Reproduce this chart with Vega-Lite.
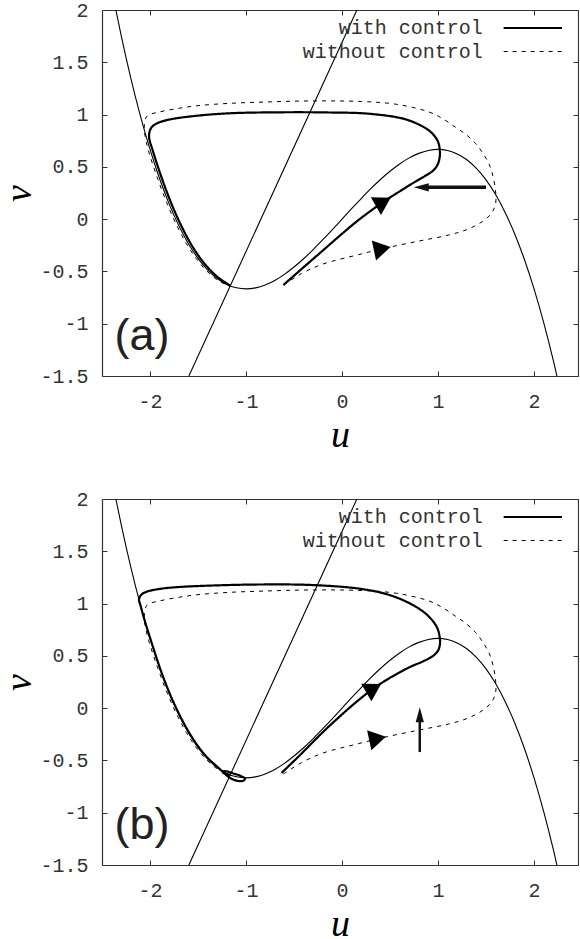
{
  "$schema": "https://vega.github.io/schema/vega-lite/v6.json",
  "padding": {"left": 0, "top": 0, "right": 0, "bottom": 0},
  "spacing": 35,
  "datasets": {
    "nullclines": [
      {"curve":"cubic","i":0,"u":-2.45,"v":2.452},{"curve":"cubic","i":1,"u":-2.4,"v":2.208},{"curve":"cubic","i":2,"u":-2.35,"v":1.976},{"curve":"cubic","i":3,"u":-2.3,"v":1.756},{"curve":"cubic","i":4,"u":-2.2,"v":1.349},{"curve":"cubic","i":5,"u":-2.1,"v":0.987},{"curve":"cubic","i":6,"u":-2.0,"v":0.667},{"curve":"cubic","i":7,"u":-1.9,"v":0.386},{"curve":"cubic","i":8,"u":-1.8,"v":0.144},{"curve":"cubic","i":9,"u":-1.7,"v":-0.062},{"curve":"cubic","i":10,"u":-1.6,"v":-0.235},{"curve":"cubic","i":11,"u":-1.5,"v":-0.375},{"curve":"cubic","i":12,"u":-1.4,"v":-0.485},{"curve":"cubic","i":13,"u":-1.3,"v":-0.568},{"curve":"cubic","i":14,"u":-1.2,"v":-0.624},{"curve":"cubic","i":15,"u":-1.1,"v":-0.656},{"curve":"cubic","i":16,"u":-1.0,"v":-0.667},{"curve":"cubic","i":17,"u":-0.9,"v":-0.657},{"curve":"cubic","i":18,"u":-0.8,"v":-0.629},{"curve":"cubic","i":19,"u":-0.7,"v":-0.586},{"curve":"cubic","i":20,"u":-0.6,"v":-0.528},{"curve":"cubic","i":21,"u":-0.5,"v":-0.458},{"curve":"cubic","i":22,"u":-0.4,"v":-0.379},{"curve":"cubic","i":23,"u":-0.3,"v":-0.291},{"curve":"cubic","i":24,"u":-0.2,"v":-0.197},{"curve":"cubic","i":25,"u":-0.1,"v":-0.1},{"curve":"cubic","i":26,"u":0.0,"v":0.0},{"curve":"cubic","i":27,"u":0.1,"v":0.1},{"curve":"cubic","i":28,"u":0.2,"v":0.197},{"curve":"cubic","i":29,"u":0.3,"v":0.291},{"curve":"cubic","i":30,"u":0.4,"v":0.379},{"curve":"cubic","i":31,"u":0.5,"v":0.458},{"curve":"cubic","i":32,"u":0.6,"v":0.528},{"curve":"cubic","i":33,"u":0.7,"v":0.586},{"curve":"cubic","i":34,"u":0.8,"v":0.629},{"curve":"cubic","i":35,"u":0.9,"v":0.657},{"curve":"cubic","i":36,"u":1.0,"v":0.667},{"curve":"cubic","i":37,"u":1.1,"v":0.656},{"curve":"cubic","i":38,"u":1.2,"v":0.624},{"curve":"cubic","i":39,"u":1.3,"v":0.568},{"curve":"cubic","i":40,"u":1.4,"v":0.485},{"curve":"cubic","i":41,"u":1.5,"v":0.375},{"curve":"cubic","i":42,"u":1.6,"v":0.235},{"curve":"cubic","i":43,"u":1.7,"v":0.062},{"curve":"cubic","i":44,"u":1.8,"v":-0.144},{"curve":"cubic","i":45,"u":1.9,"v":-0.386},{"curve":"cubic","i":46,"u":2.0,"v":-0.667},{"curve":"cubic","i":47,"u":2.1,"v":-0.987},{"curve":"cubic","i":48,"u":2.2,"v":-1.349},{"curve":"cubic","i":49,"u":2.3,"v":-1.756},
      {"curve":"line","i":0,"u":-1.595,"v":-1.5},{"curve":"line","i":1,"u":0.155,"v":2.0}
    ],
    "traj": [
      {"panel":"a","series":"with control","i":1,"u":-0.61,"v":-0.63},{"panel":"a","series":"with control","i":2,"u":-0.45,"v":-0.5},{"panel":"a","series":"with control","i":3,"u":-0.2,"v":-0.3},{"panel":"a","series":"with control","i":4,"u":0.0,"v":-0.14},{"panel":"a","series":"with control","i":5,"u":0.17,"v":-0.01},{"panel":"a","series":"with control","i":6,"u":0.43,"v":0.165},{"panel":"a","series":"with control","i":7,"u":0.6,"v":0.265},{"panel":"a","series":"with control","i":8,"u":0.73,"v":0.34},{"panel":"a","series":"with control","i":9,"u":0.86,"v":0.41},{"panel":"a","series":"with control","i":10,"u":0.95,"v":0.465},{"panel":"a","series":"with control","i":11,"u":0.995,"v":0.52},{"panel":"a","series":"with control","i":12,"u":1.015,"v":0.58},{"panel":"a","series":"with control","i":13,"u":1.02,"v":0.645},{"panel":"a","series":"with control","i":14,"u":1.0,"v":0.74},{"panel":"a","series":"with control","i":15,"u":0.95,"v":0.81},{"panel":"a","series":"with control","i":16,"u":0.87,"v":0.87},{"panel":"a","series":"with control","i":17,"u":0.66,"v":0.955},{"panel":"a","series":"with control","i":18,"u":0.28,"v":1.008},{"panel":"a","series":"with control","i":19,"u":-0.14,"v":1.02},{"panel":"a","series":"with control","i":20,"u":-0.6,"v":1.022},{"panel":"a","series":"with control","i":21,"u":-1.18,"v":1.012},{"panel":"a","series":"with control","i":22,"u":-1.55,"v":0.985},{"panel":"a","series":"with control","i":23,"u":-1.8,"v":0.952},{"panel":"a","series":"with control","i":24,"u":-1.93,"v":0.915},{"panel":"a","series":"with control","i":25,"u":-1.99,"v":0.87},{"panel":"a","series":"with control","i":26,"u":-2.01,"v":0.79},{"panel":"a","series":"with control","i":27,"u":-1.975,"v":0.667},{"panel":"a","series":"with control","i":28,"u":-1.875,"v":0.386},{"panel":"a","series":"with control","i":29,"u":-1.775,"v":0.144},{"panel":"a","series":"with control","i":30,"u":-1.675,"v":-0.062},{"panel":"a","series":"with control","i":31,"u":-1.575,"v":-0.235},{"panel":"a","series":"with control","i":32,"u":-1.475,"v":-0.375},{"panel":"a","series":"with control","i":33,"u":-1.375,"v":-0.485},{"panel":"a","series":"with control","i":34,"u":-1.28,"v":-0.565},{"panel":"a","series":"with control","i":35,"u":-1.2,"v":-0.615},{"panel":"a","series":"with control","i":36,"u":-1.165,"v":-0.638},
      {"panel":"a","series":"without control","i":1,"u":-0.61,"v":-0.63},{"panel":"a","series":"without control","i":2,"u":-0.42,"v":-0.52},{"panel":"a","series":"without control","i":3,"u":-0.2,"v":-0.43},{"panel":"a","series":"without control","i":4,"u":0.17,"v":-0.34},{"panel":"a","series":"without control","i":5,"u":0.42,"v":-0.283},{"panel":"a","series":"without control","i":6,"u":0.8,"v":-0.21},{"panel":"a","series":"without control","i":7,"u":1.11,"v":-0.152},{"panel":"a","series":"without control","i":8,"u":1.3,"v":-0.1},{"panel":"a","series":"without control","i":9,"u":1.458,"v":-0.025},{"panel":"a","series":"without control","i":10,"u":1.56,"v":0.06},{"panel":"a","series":"without control","i":11,"u":1.6,"v":0.15},{"panel":"a","series":"without control","i":12,"u":1.6,"v":0.26},{"panel":"a","series":"without control","i":13,"u":1.57,"v":0.42},{"panel":"a","series":"without control","i":14,"u":1.53,"v":0.53},{"panel":"a","series":"without control","i":15,"u":1.46,"v":0.64},{"panel":"a","series":"without control","i":16,"u":1.39,"v":0.725},{"panel":"a","series":"without control","i":17,"u":1.29,"v":0.81},{"panel":"a","series":"without control","i":18,"u":1.18,"v":0.88},{"panel":"a","series":"without control","i":19,"u":1.05,"v":0.96},{"panel":"a","series":"without control","i":20,"u":0.9,"v":1.027},{"panel":"a","series":"without control","i":21,"u":0.556,"v":1.1},{"panel":"a","series":"without control","i":22,"u":0.2,"v":1.125},{"panel":"a","series":"without control","i":23,"u":-0.35,"v":1.13},{"panel":"a","series":"without control","i":24,"u":-0.8,"v":1.12},{"panel":"a","series":"without control","i":25,"u":-1.18,"v":1.107},{"panel":"a","series":"without control","i":26,"u":-1.5,"v":1.085},{"panel":"a","series":"without control","i":27,"u":-1.7,"v":1.06},{"panel":"a","series":"without control","i":28,"u":-1.9,"v":1.025},{"panel":"a","series":"without control","i":29,"u":-2.03,"v":0.986},{"panel":"a","series":"without control","i":30,"u":-2.06,"v":0.88},{"panel":"a","series":"without control","i":31,"u":-2.05,"v":0.79},{"panel":"a","series":"without control","i":32,"u":-2.02,"v":0.667},{"panel":"a","series":"without control","i":33,"u":-1.92,"v":0.386},{"panel":"a","series":"without control","i":34,"u":-1.82,"v":0.144},{"panel":"a","series":"without control","i":35,"u":-1.72,"v":-0.062},{"panel":"a","series":"without control","i":36,"u":-1.62,"v":-0.235},{"panel":"a","series":"without control","i":37,"u":-1.52,"v":-0.375},{"panel":"a","series":"without control","i":38,"u":-1.42,"v":-0.485},{"panel":"a","series":"without control","i":39,"u":-1.32,"v":-0.568},{"panel":"a","series":"without control","i":40,"u":-1.22,"v":-0.622},{"panel":"a","series":"without control","i":41,"u":-1.165,"v":-0.638},
      {"panel":"b","series":"with control","i":1,"u":-0.63,"v":-0.62},{"panel":"b","series":"with control","i":2,"u":-0.45,"v":-0.46},{"panel":"b","series":"with control","i":3,"u":-0.2,"v":-0.23},{"panel":"b","series":"with control","i":4,"u":0.0,"v":-0.06},{"panel":"b","series":"with control","i":5,"u":0.15,"v":0.06},{"panel":"b","series":"with control","i":6,"u":0.33,"v":0.19},{"panel":"b","series":"with control","i":7,"u":0.5,"v":0.29},{"panel":"b","series":"with control","i":8,"u":0.7,"v":0.39},{"panel":"b","series":"with control","i":9,"u":0.85,"v":0.45},{"panel":"b","series":"with control","i":10,"u":0.95,"v":0.5},{"panel":"b","series":"with control","i":11,"u":1.0,"v":0.55},{"panel":"b","series":"with control","i":12,"u":1.018,"v":0.6},{"panel":"b","series":"with control","i":13,"u":1.02,"v":0.66},{"panel":"b","series":"with control","i":14,"u":0.99,"v":0.77},{"panel":"b","series":"with control","i":15,"u":0.9,"v":0.88},{"panel":"b","series":"with control","i":16,"u":0.75,"v":0.98},{"panel":"b","series":"with control","i":17,"u":0.5,"v":1.08},{"panel":"b","series":"with control","i":18,"u":0.2,"v":1.14},{"panel":"b","series":"with control","i":19,"u":-0.3,"v":1.177},{"panel":"b","series":"with control","i":20,"u":-0.9,"v":1.182},{"panel":"b","series":"with control","i":21,"u":-1.49,"v":1.168},{"panel":"b","series":"with control","i":22,"u":-1.75,"v":1.155},{"panel":"b","series":"with control","i":23,"u":-1.9,"v":1.14},{"panel":"b","series":"with control","i":24,"u":-2.03,"v":1.115},{"panel":"b","series":"with control","i":25,"u":-2.09,"v":1.085},{"panel":"b","series":"with control","i":26,"u":-2.115,"v":1.04},{"panel":"b","series":"with control","i":27,"u":-2.1,"v":0.985},{"panel":"b","series":"with control","i":28,"u":-2.04,"v":0.79},{"panel":"b","series":"with control","i":29,"u":-1.995,"v":0.66},{"panel":"b","series":"with control","i":30,"u":-1.895,"v":0.38},{"panel":"b","series":"with control","i":31,"u":-1.795,"v":0.14},{"panel":"b","series":"with control","i":32,"u":-1.695,"v":-0.06},{"panel":"b","series":"with control","i":33,"u":-1.595,"v":-0.23},{"panel":"b","series":"with control","i":34,"u":-1.495,"v":-0.37},{"panel":"b","series":"with control","i":35,"u":-1.395,"v":-0.48},{"panel":"b","series":"with control","i":36,"u":-1.3,"v":-0.56},{"panel":"b","series":"with control","i":37,"u":-1.24,"v":-0.61},{"panel":"b","series":"with control","i":38,"u":-1.17,"v":-0.665},{"panel":"b","series":"with control","i":39,"u":-1.09,"v":-0.695},{"panel":"b","series":"with control","i":40,"u":-1.03,"v":-0.695},{"panel":"b","series":"with control","i":41,"u":-1.01,"v":-0.675},{"panel":"b","series":"with control","i":42,"u":-1.05,"v":-0.65},{"panel":"b","series":"with control","i":43,"u":-1.13,"v":-0.625},{"panel":"b","series":"with control","i":44,"u":-1.2,"v":-0.605},{"panel":"b","series":"with control","i":45,"u":-1.245,"v":-0.603},{"panel":"b","series":"with control","i":46,"u":-1.235,"v":-0.62},{"panel":"b","series":"with control","i":47,"u":-1.19,"v":-0.635},{"panel":"b","series":"with control","i":48,"u":-1.165,"v":-0.638},
      {"panel":"b","series":"without control","i":1,"u":-0.61,"v":-0.63},{"panel":"b","series":"without control","i":2,"u":-0.42,"v":-0.52},{"panel":"b","series":"without control","i":3,"u":-0.2,"v":-0.43},{"panel":"b","series":"without control","i":4,"u":0.17,"v":-0.34},{"panel":"b","series":"without control","i":5,"u":0.42,"v":-0.283},{"panel":"b","series":"without control","i":6,"u":0.8,"v":-0.21},{"panel":"b","series":"without control","i":7,"u":1.11,"v":-0.152},{"panel":"b","series":"without control","i":8,"u":1.3,"v":-0.1},{"panel":"b","series":"without control","i":9,"u":1.458,"v":-0.025},{"panel":"b","series":"without control","i":10,"u":1.56,"v":0.06},{"panel":"b","series":"without control","i":11,"u":1.6,"v":0.15},{"panel":"b","series":"without control","i":12,"u":1.6,"v":0.26},{"panel":"b","series":"without control","i":13,"u":1.57,"v":0.42},{"panel":"b","series":"without control","i":14,"u":1.53,"v":0.53},{"panel":"b","series":"without control","i":15,"u":1.46,"v":0.64},{"panel":"b","series":"without control","i":16,"u":1.39,"v":0.725},{"panel":"b","series":"without control","i":17,"u":1.29,"v":0.81},{"panel":"b","series":"without control","i":18,"u":1.18,"v":0.88},{"panel":"b","series":"without control","i":19,"u":1.05,"v":0.96},{"panel":"b","series":"without control","i":20,"u":0.9,"v":1.027},{"panel":"b","series":"without control","i":21,"u":0.556,"v":1.1},{"panel":"b","series":"without control","i":22,"u":0.2,"v":1.125},{"panel":"b","series":"without control","i":23,"u":-0.35,"v":1.13},{"panel":"b","series":"without control","i":24,"u":-0.8,"v":1.12},{"panel":"b","series":"without control","i":25,"u":-1.18,"v":1.107},{"panel":"b","series":"without control","i":26,"u":-1.5,"v":1.085},{"panel":"b","series":"without control","i":27,"u":-1.7,"v":1.06},{"panel":"b","series":"without control","i":28,"u":-1.9,"v":1.025},{"panel":"b","series":"without control","i":29,"u":-2.03,"v":0.986},{"panel":"b","series":"without control","i":30,"u":-2.06,"v":0.88},{"panel":"b","series":"without control","i":31,"u":-2.05,"v":0.79},{"panel":"b","series":"without control","i":32,"u":-2.02,"v":0.667},{"panel":"b","series":"without control","i":33,"u":-1.92,"v":0.386},{"panel":"b","series":"without control","i":34,"u":-1.82,"v":0.144},{"panel":"b","series":"without control","i":35,"u":-1.72,"v":-0.062},{"panel":"b","series":"without control","i":36,"u":-1.62,"v":-0.235},{"panel":"b","series":"without control","i":37,"u":-1.52,"v":-0.375},{"panel":"b","series":"without control","i":38,"u":-1.42,"v":-0.485},{"panel":"b","series":"without control","i":39,"u":-1.32,"v":-0.568},{"panel":"b","series":"without control","i":40,"u":-1.22,"v":-0.622},{"panel":"b","series":"without control","i":41,"u":-1.165,"v":-0.638}
    ],
    "heads": [
      {"panel":"a","kind":"solid","u":0.43,"v":0.165},
      {"panel":"a","kind":"dashed","u":0.419,"v":-0.283},
      {"panel":"a","kind":"push","u":0.825,"v":0.304},
      {"panel":"b","kind":"solid","u":0.33,"v":0.19},
      {"panel":"b","kind":"dashed","u":0.37,"v":-0.29},
      {"panel":"b","kind":"push","u":0.81,"v":-0.062}
    ],
    "shafts": [
      {"panel":"a","u":1.5,"u2":0.83,"v":0.304,"v2":0.304},
      {"panel":"b","u":0.81,"u2":0.81,"v":-0.42,"v2":-0.07}
    ],
    "tags": [
      {"panel":"a","label":"(a)","u":-2.37,"v":-1.25},
      {"panel":"b","label":"(b)","u":-2.37,"v":-1.25}
    ]
  },
  "vconcat": [
    {
      "width": 476, "height": 366,
      "layer": [
        {"data":{"name":"nullclines"},"mark":{"type":"line","stroke":"black","strokeWidth":1.1,"clip":true,"interpolate":"monotone"},
         "encoding":{
           "x":{"field":"u","type":"quantitative","scale":{"domain":[-2.5,2.458],"nice":false,"zero":false},"axis":{"values":[-2,-1,0,1,2],"title":"u","labelPadding":20,"titlePadding":5,"labelExpr":"toString(datum.value)"}},
           "y":{"field":"v","type":"quantitative","scale":{"domain":[-1.5,2],"nice":false,"zero":false},"axis":{"values":[-1.5,-1,-0.5,0,0.5,1,1.5,2],"title":"v","labelPadding":19,"titlePadding":1,"labelExpr":"toString(datum.value)"}},
           "detail":{"field":"curve"},
           "order":{"field":"i","type":"quantitative"}}},
        {"data":{"name":"traj"},"transform":[{"filter":"datum.panel==='a'"}],"mark":{"type":"line","stroke":"black","clip":true,"interpolate":"catmull-rom"},
         "encoding":{
           "x":{"field":"u","type":"quantitative","axis":null},
           "y":{"field":"v","type":"quantitative","axis":null},
           "order":{"field":"i","type":"quantitative"},
           "strokeDash":{"field":"series","type":"nominal","scale":{"domain":["with control","without control"],"range":[[1,0],[4,5]]},"legend":{"title":null}},
           "strokeWidth":{"field":"series","type":"nominal","scale":{"domain":["with control","without control"],"range":[2.2,1]},"legend":{"title":null}}}},
        {"data":{"name":"shafts"},"transform":[{"filter":"datum.panel==='a'"}],"mark":{"type":"rule","stroke":"#111","strokeWidth":3.5},
         "encoding":{"x":{"field":"u","type":"quantitative","axis":null},"x2":{"field":"u2"},"y":{"field":"v","type":"quantitative","axis":null}}},
        {"data":{"name":"heads"},"transform":[{"filter":"datum.panel==='a' && datum.kind==='solid'"}],"mark":{"type":"point","shape":"M1,0L-1,-1.2L-1,1.2Z","size":289,"filled":true,"fill":"black","opacity":1,"angle":330},
         "encoding":{"x":{"field":"u","type":"quantitative","axis":null},"y":{"field":"v","type":"quantitative","axis":null}}},
        {"data":{"name":"heads"},"transform":[{"filter":"datum.panel==='a' && datum.kind==='dashed'"}],"mark":{"type":"point","shape":"M1,0L-1,-1.2L-1,1.2Z","size":289,"filled":true,"fill":"black","opacity":1,"angle":348},
         "encoding":{"x":{"field":"u","type":"quantitative","axis":null},"y":{"field":"v","type":"quantitative","axis":null}}},
        {"data":{"name":"heads"},"transform":[{"filter":"datum.panel==='a' && datum.kind==='push'"}],"mark":{"type":"point","shape":"M1,0L-1,-0.55L-1,0.55Z","size":225,"filled":true,"fill":"#111","opacity":1,"angle":180},
         "encoding":{"x":{"field":"u","type":"quantitative","axis":null},"y":{"field":"v","type":"quantitative","axis":null}}},
        {"data":{"name":"tags"},"transform":[{"filter":"datum.panel==='a'"}],"mark":{"type":"text","font":"Liberation Sans","fontSize":45,"align":"left","baseline":"alphabetic","fill":"#222"},
         "encoding":{"x":{"field":"u","type":"quantitative","axis":null},"y":{"field":"v","type":"quantitative","axis":null},"text":{"field":"label"}}},
        {"data":{"name":"nullclines"},"mark":{"type":"point","opacity":0,"clip":true},
         "encoding":{
           "x":{"field":"u","type":"quantitative","axis":{"orient":"top","labels":false,"title":null,"values":[-2,-1,0,1,2]}},
           "y":{"field":"v","type":"quantitative","axis":{"orient":"right","labels":false,"title":null,"values":[-1.5,-1,-0.5,0,0.5,1,1.5,2]}}}}
      ],
      "resolve":{"axis":{"x":"independent","y":"independent"}}
    },
    {
      "width": 476, "height": 366,
      "layer": [
        {"data":{"name":"nullclines"},"mark":{"type":"line","stroke":"black","strokeWidth":1.1,"clip":true,"interpolate":"monotone"},
         "encoding":{
           "x":{"field":"u","type":"quantitative","scale":{"domain":[-2.5,2.458],"nice":false,"zero":false},"axis":{"values":[-2,-1,0,1,2],"title":"u","labelPadding":20,"titlePadding":5,"labelExpr":"toString(datum.value)"}},
           "y":{"field":"v","type":"quantitative","scale":{"domain":[-1.5,2],"nice":false,"zero":false},"axis":{"values":[-1.5,-1,-0.5,0,0.5,1,1.5,2],"title":"v","labelPadding":19,"titlePadding":1,"labelExpr":"toString(datum.value)"}},
           "detail":{"field":"curve"},
           "order":{"field":"i","type":"quantitative"}}},
        {"data":{"name":"traj"},"transform":[{"filter":"datum.panel==='b'"}],"mark":{"type":"line","stroke":"black","clip":true,"interpolate":"catmull-rom"},
         "encoding":{
           "x":{"field":"u","type":"quantitative","axis":null},
           "y":{"field":"v","type":"quantitative","axis":null},
           "order":{"field":"i","type":"quantitative"},
           "strokeDash":{"field":"series","type":"nominal","scale":{"domain":["with control","without control"],"range":[[1,0],[4,5]]},"legend":{"title":null}},
           "strokeWidth":{"field":"series","type":"nominal","scale":{"domain":["with control","without control"],"range":[2.2,1]},"legend":{"title":null}}}},
        {"data":{"name":"shafts"},"transform":[{"filter":"datum.panel==='b'"}],"mark":{"type":"rule","stroke":"#111","strokeWidth":2.5},
         "encoding":{"x":{"field":"u","type":"quantitative","axis":null},"y":{"field":"v","type":"quantitative","axis":null},"y2":{"field":"v2"}}},
        {"data":{"name":"heads"},"transform":[{"filter":"datum.panel==='b' && datum.kind==='solid'"}],"mark":{"type":"point","shape":"M1,0L-1,-1.2L-1,1.2Z","size":289,"filled":true,"fill":"black","opacity":1,"angle":330},
         "encoding":{"x":{"field":"u","type":"quantitative","axis":null},"y":{"field":"v","type":"quantitative","axis":null}}},
        {"data":{"name":"heads"},"transform":[{"filter":"datum.panel==='b' && datum.kind==='dashed'"}],"mark":{"type":"point","shape":"M1,0L-1,-1.2L-1,1.2Z","size":289,"filled":true,"fill":"black","opacity":1,"angle":348},
         "encoding":{"x":{"field":"u","type":"quantitative","axis":null},"y":{"field":"v","type":"quantitative","axis":null}}},
        {"data":{"name":"heads"},"transform":[{"filter":"datum.panel==='b' && datum.kind==='push'"}],"mark":{"type":"point","shape":"M1,0L-1,-0.55L-1,0.55Z","size":225,"filled":true,"fill":"#111","opacity":1,"angle":270},
         "encoding":{"x":{"field":"u","type":"quantitative","axis":null},"y":{"field":"v","type":"quantitative","axis":null}}},
        {"data":{"name":"tags"},"transform":[{"filter":"datum.panel==='b'"}],"mark":{"type":"text","font":"Liberation Sans","fontSize":45,"align":"left","baseline":"alphabetic","fill":"#222"},
         "encoding":{"x":{"field":"u","type":"quantitative","axis":null},"y":{"field":"v","type":"quantitative","axis":null},"text":{"field":"label"}}},
        {"data":{"name":"nullclines"},"mark":{"type":"point","opacity":0,"clip":true},
         "encoding":{
           "x":{"field":"u","type":"quantitative","axis":{"orient":"top","labels":false,"title":null,"values":[-2,-1,0,1,2]}},
           "y":{"field":"v","type":"quantitative","axis":{"orient":"right","labels":false,"title":null,"values":[-1.5,-1,-0.5,0,0.5,1,1.5,2]}}}}
      ],
      "resolve":{"axis":{"x":"independent","y":"independent"}}
    }
  ],
  "resolve": {"legend": {"strokeDash": "independent", "strokeWidth": "independent"}},
  "config": {
    "view": {"stroke": null},
    "axis": {"domainColor":"#333","domainWidth":1.2,"tickColor":"#333","tickWidth":1,"tickSize":-5,"labelColor":"#333","labelFont":"Liberation Mono","labelFontSize":20,"labelFlush":false,"labelOverlap":false,"labelBound":false,"grid":false,"titleFont":"Liberation Serif","titleFontStyle":"italic","titleFontWeight":"normal","titleFontSize":38,"titleColor":"#000"},
    "legend": {"orient":"none","legendX":420.8,"legendY":8,"padding":0,"symbolType":"M-5,0L5,0","symbolSize":136,"symbolStrokeColor":"black","symbolOffset":0,"labelFont":"Liberation Mono","labelFontSize":20,"labelColor":"#333","labelAlign":"right","labelOffset":-60,"labelLimit":0,"rowPadding":3.5}
  }
}
